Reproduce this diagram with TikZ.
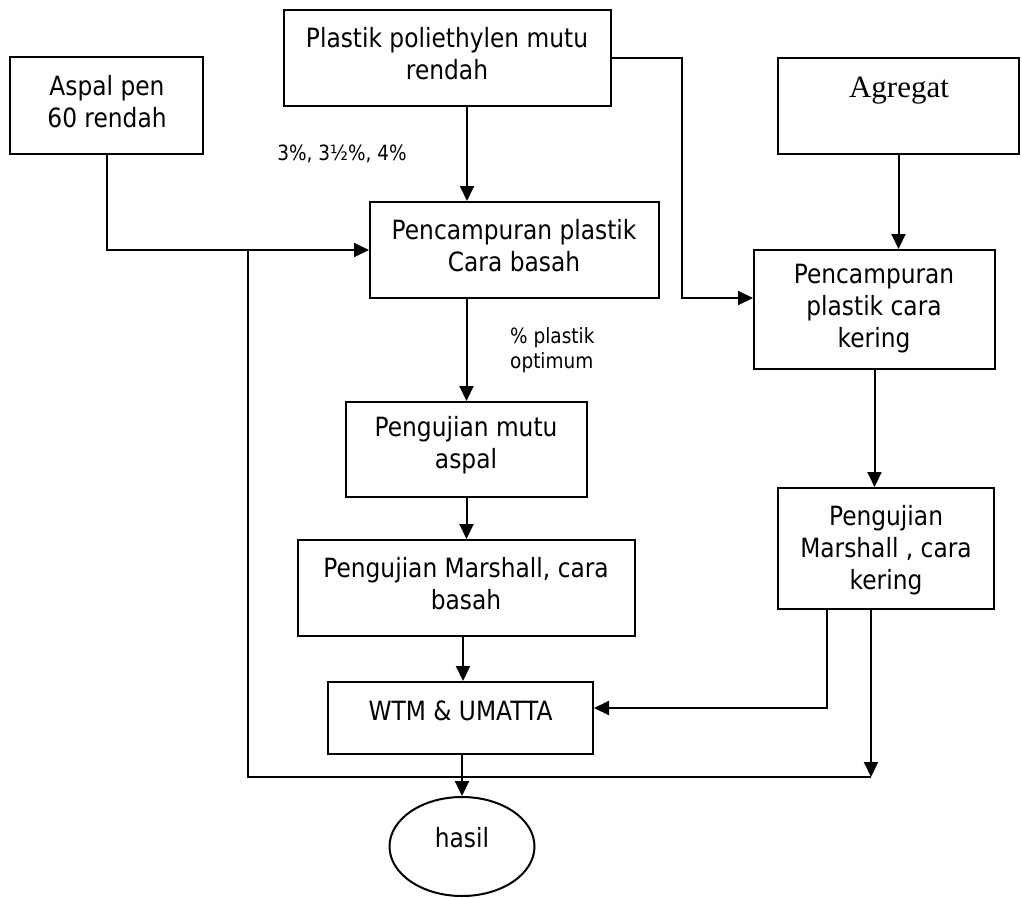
\documentclass[tikz,border=0pt]{standalone}
\usepackage{fontspec}
\setmainfont{DejaVu Sans}[FakeStretch=0.88]
\newfontfamily\agfont{Liberation Serif}
\usetikzlibrary{arrows.meta,shapes.geometric}
\begin{document}
\begin{tikzpicture}[x=1pt,y=-1pt,
  box/.style={draw, line width=2pt, rectangle, inner sep=0pt},
  txt/.style={align=center, inner sep=0pt, font=\fontsize{26.5}{32}\selectfont},
  small/.style={align=left, inner sep=0pt, font=\fontsize{21}{25}\selectfont},
  conn/.style={line width=2pt},
  arr/.style={line width=2pt, -{Triangle[length=15pt,width=14pt]}}]
\useasboundingbox (0,0) rectangle (1022,897);

% boxes
\node[box, minimum width=193pt, minimum height=97pt] (aspal) at (106.5,105.5) {};
\node[box, minimum width=327pt, minimum height=96pt] (plastik) at (447.5,58) {};
\node[box, minimum width=241pt, minimum height=96pt] (agregat) at (898.5,106) {};
\node[box, minimum width=289pt, minimum height=96pt] (basah) at (514.5,250) {};
\node[box, minimum width=241pt, minimum height=119pt] (kering) at (874.5,309.5) {};
\node[box, minimum width=241pt, minimum height=95pt] (mutu) at (466.5,449.5) {};
\node[box, minimum width=337pt, minimum height=96pt] (mbasah) at (466.5,588) {};
\node[box, minimum width=216pt, minimum height=121pt] (mkering) at (886,548.5) {};
\node[box, minimum width=265pt, minimum height=72pt] (wtm) at (460.5,718) {};
\node[draw, line width=2pt, ellipse, inner sep=0pt, minimum width=145pt, minimum height=99pt] (hasil) at (462,846.5) {};

% texts
\node[txt] (taspal) at (107,102) {Aspal pen\\60 rendah};
\node[txt] (tplastik) at (447,54) {Plastik poliethylen mutu\\rendah};
\node[inner sep=0pt, font=\agfont\fontsize{31}{36}\selectfont] (tagregat) at (899,91) {Agregat};
\node[txt] (tbasah) at (514,246) {Pencampuran plastik\\Cara basah};
\node[txt] (tkering) at (874,309) {Pencampuran\\plastik cara\\kering};
\node[txt] (tmutu) at (466,445) {Pengujian mutu\\aspal};
\node[txt] (tmbasah) at (466,584) {Pengujian Marshall, cara\\basah};
\node[txt] (tmkering) at (886,550) {Pengujian\\Marshall , cara\\kering};
\node[txt] (twtm) at (460.5,710.5) {WTM \& UMATTA};
\node[txt] (thasil) at (462,838) {hasil};
\node[small, align=center] (tpct) at (342,154) {3\%, 3½\%, 4\%};
\node[small, anchor=west] (topt) at (510,350) {\% plastik\\optimum};

% junctions
\coordinate (j1) at (248,249);
\coordinate (j2) at (248,777);
\coordinate (j3) at (871,777);
\coordinate (p1) at (682,58);
\coordinate (p2) at (682,298);
\coordinate (w1) at (827,708);

% connectors
\draw[arr] (467,0 |- plastik.south) -- (467,0 |- basah.north);
\draw[arr] (aspal.south) |- (basah.west);
\draw[conn] (j1) -- (j2) -- (j3);
\draw[arr] (871,0 |- mkering.south) -- (j3);
\draw[arr] (plastik.east |- p1) -- (p1) -- (p2) -- (kering.west |- p2);
\draw[arr] (agregat.south) -- (agregat.south |- kering.north);
\draw[arr] (kering.south) -- (kering.south |- mkering.north);
\draw[arr] (mutu.north |- basah.south) -- (mutu.north);
\draw[arr] (mutu.south) -- (mbasah.north);
\draw[arr] (463,0 |- mbasah.south) -- (463,0 |- wtm.north);
\draw[arr] (w1 |- mkering.south) -- (w1) -- (wtm.east |- w1);
\draw[arr] (hasil.north |- wtm.south) -- (hasil.north);
\end{tikzpicture}
\end{document}
